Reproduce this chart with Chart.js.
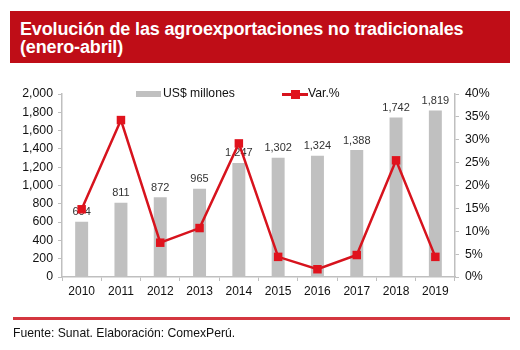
<!DOCTYPE html>
<html>
<head>
<meta charset="utf-8">
<script src="https://cdn.jsdelivr.net/npm/chart.js@4.4.1/dist/chart.umd.min.js"></script>
<style>
  html, body { margin: 0; padding: 0; background: #fff; }
  body { width: 520px; height: 350px; position: relative; overflow: hidden; font-family: "Liberation Sans", Arial, sans-serif; }
  #chart { position: absolute; left: 0; top: 0; }
  #title { position: absolute; left: 10px; top: 11px; width: 490px; height: 43px; padding: 9px 0 0 10px;
           background: #BF0D17; color: #fff; font-weight: bold; font-size: 18px; line-height: 18px; letter-spacing: -0.15px; z-index: 2; }
  #rule { position: absolute; left: 13px; top: 317px; width: 497px; height: 3px; background: #D4363F; }
  #note { position: absolute; left: 13px; top: 326px; font-size: 12.2px; color: #111; white-space: nowrap; }
  .lg { position: absolute; font-size: 12.2px; color: #111; white-space: nowrap; top: 86px; }
  #lgBar { position: absolute; left: 136px; top: 91px; width: 25px; height: 6px; background: #C0C0C0; }
  #lgLine { position: absolute; left: 282px; top: 93px; width: 26px; height: 3px; background: #D7131D; }
  #lgMark { position: absolute; left: 291px; top: 90px; width: 9px; height: 9px; background: #E0131D; }
</style>
</head>
<body>
<canvas id="chart" width="520" height="350"></canvas>
<div id="title">Evolución de las agroexportaciones no tradicionales<br>(enero-abril)</div>
<div id="lgBar"></div><div class="lg" style="left:163px">US$ millones</div>
<div id="lgLine"></div><div id="lgMark"></div><div class="lg" style="left:308px">Var.%</div>
<div id="rule"></div>
<div id="note">Fuente: Sunat. Elaboración: ComexPerú.</div>
<script>
const years = ['2010','2011','2012','2013','2014','2015','2016','2017','2018','2019'];
const exportsUSD = [604, 811, 872, 965, 1247, 1302, 1324, 1388, 1742, 1819];
const varPct = [14.8, 34.3, 7.5, 10.7, 29.2, 4.4, 1.7, 4.8, 25.5, 4.4];
const leftTicksMax = 2000, leftStep = 200;
const rightTicksMax = 40, rightStep = 5;

const fmt = v => v.toLocaleString('en-US');
const FONT = '"Liberation Sans", Arial, sans-serif';
const axisColor = '#BFBFBF';

const barLabels = {
  id: 'barLabels',
  afterDatasetDraw(chart, args) {
    if (args.index !== 0) return;
    const ctx = chart.ctx;
    ctx.save();
    ctx.font = '11px ' + FONT;
    ctx.fillStyle = '#333';
    ctx.textAlign = 'center';
    ctx.textBaseline = 'bottom';
    args.meta.data.forEach((bar, i) => {
      ctx.fillText(fmt(exportsUSD[i]), bar.x, bar.y - 4);
    });
    ctx.restore();
  }
};

new Chart(document.getElementById('chart'), {
  type: 'bar',
  data: {
    labels: years,
    datasets: [
      { type: 'bar', label: 'US$ millones', data: exportsUSD, yAxisID: 'y',
        backgroundColor: '#C0C0C0', barPercentage: 0.33, categoryPercentage: 1, order: 2 },
      { type: 'line', label: 'Var.%', data: varPct, yAxisID: 'y1',
        borderColor: '#D7131D', borderWidth: 2.5, pointStyle: 'rect', pointRadius: 6,
        pointBackgroundColor: '#E0131D', pointBorderColor: '#E0131D', pointBorderWidth: 0,
        tension: 0, order: 1 }
    ]
  },
  options: {
    responsive: false,
    animation: false,
    layout: { padding: { top: 94, left: 0, right: 10, bottom: 43 } },
    plugins: { legend: { display: false }, tooltip: { enabled: false }, title: { display: false } },
    scales: {
      x: {
        grid: { display: true, drawOnChartArea: false, drawTicks: true, tickLength: 4, color: axisColor, offset: true },
        border: { display: true, color: axisColor, width: 1.5 },
        ticks: { color: '#111', font: { family: FONT, size: 12 }, padding: 3, maxRotation: 0 },
        afterFit(s) { s.height = 30; }
      },
      y: {
        position: 'left', min: 0, max: leftTicksMax,
        grid: { display: true, drawOnChartArea: false, drawTicks: true, tickLength: 4, color: axisColor },
        border: { display: true, color: axisColor, width: 1.5 },
        ticks: { stepSize: leftStep, color: '#111', font: { family: FONT, size: 12.3 }, padding: 5,
                 callback: v => fmt(v) },
        afterFit(s) { s.width = 62; }
      },
      y1: {
        position: 'right', min: 0, max: rightTicksMax,
        grid: { display: true, drawOnChartArea: false, drawTicks: true, tickLength: 4, color: axisColor },
        border: { display: true, color: axisColor, width: 1.5 },
        ticks: { stepSize: rightStep, color: '#111', font: { family: FONT, size: 12.3 }, padding: 6,
                 callback: v => v + '%' },
        afterFit(s) { s.width = 55; }
      }
    }
  },
  plugins: [barLabels]
});
</script>
</body>
</html>
